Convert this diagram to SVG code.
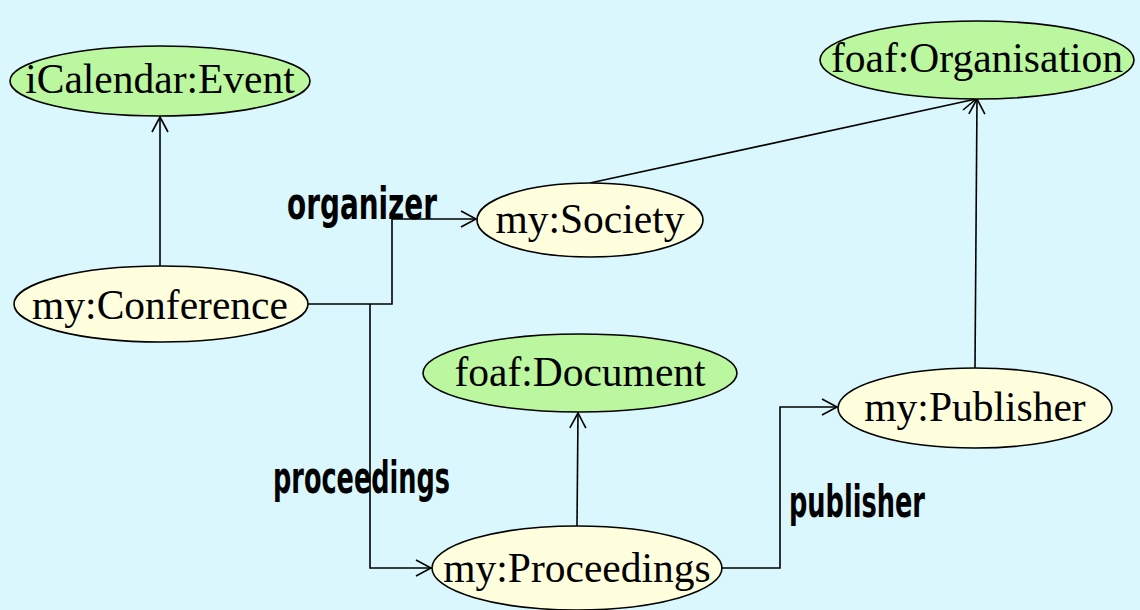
<svg xmlns="http://www.w3.org/2000/svg" width="1140" height="610" viewBox="0 0 1140 610">
  <defs>
    <marker id="open-arrow" markerWidth="20" markerHeight="20" viewBox="-18 -10 20 20" refX="0" refY="0" orient="auto" markerUnits="userSpaceOnUse">
      <path d="M-15,-8 L0,0 L-15,8" fill="none" stroke="#000" stroke-width="1.6"/>
    </marker>
    <style>
      .bg { fill: #d9f7fc; }
      .cls { fill: #bbf79e; stroke: #000; stroke-width: 1.6; }
      .inst { fill: #ffffdd; stroke: #000; stroke-width: 1.6; }
      .name { font-family: "Liberation Serif", "Times New Roman", Times, serif; font-size: 41.5px; fill: #000; text-anchor: middle; }
      .edge { fill: none; stroke: #000; stroke-width: 1.6; marker-end: url(#open-arrow); }
      .prop { font-family: "Liberation Sans Narrow", "DejaVu Sans Condensed", "Liberation Sans", sans-serif; font-stretch: condensed; font-weight: bold; font-size: 44px; fill: #000; }
    </style>
  </defs>

  <rect class="bg" x="0" y="0" width="1140" height="610"/>

  <!-- connectors -->
  <g id="connectors">
    <path class="edge" d="M160,266 L160,117"/>
    <path class="edge" d="M308,304 L392,304 L392,219 L476,219"/>
    <path class="edge" d="M370,304 L370,568 L431,568"/>
    <path class="edge" d="M577,526 L578,413"/>
    <path class="edge" d="M722,568 L780,568 L780,407 L837,407"/>
    <path class="edge" d="M975,368 L977,99"/>
    <path class="edge" d="M590,183 L976,99"/>
    <text class="prop" x="287" y="219" textLength="150" lengthAdjust="spacingAndGlyphs">organizer</text>
    <text class="prop" x="273" y="493" textLength="177" lengthAdjust="spacingAndGlyphs">proceedings</text>
    <text class="prop" x="789" y="517" textLength="136" lengthAdjust="spacingAndGlyphs">publisher</text>
  </g>

  <!-- class nodes -->
  <g id="icalendar-event">
    <ellipse class="cls" cx="160" cy="81" rx="150" ry="35"/>
    <text class="name" x="160" y="93">iCalendar:Event</text>
  </g>
  <g id="foaf-organisation">
    <ellipse class="cls" cx="977" cy="60" rx="157" ry="39"/>
    <text class="name" x="977" y="72">foaf:Organisation</text>
  </g>
  <g id="foaf-document">
    <ellipse class="cls" cx="580" cy="373" rx="157" ry="39"/>
    <text class="name" x="580" y="386">foaf:Document</text>
  </g>

  <!-- instance nodes -->
  <g id="my-conference">
    <ellipse class="inst" cx="161" cy="304" rx="147" ry="38"/>
    <text class="name" x="160" y="319">my:Conference</text>
  </g>
  <g id="my-society">
    <ellipse class="inst" cx="590" cy="220" rx="113" ry="37"/>
    <text class="name" x="590" y="233">my:Society</text>
  </g>
  <g id="my-proceedings">
    <ellipse class="inst" cx="577" cy="568" rx="145" ry="42"/>
    <text class="name" x="577" y="582">my:Proceedings</text>
  </g>
  <g id="my-publisher">
    <ellipse class="inst" cx="975" cy="408" rx="137" ry="40"/>
    <text class="name" x="975" y="421">my:Publisher</text>
  </g>
</svg>
